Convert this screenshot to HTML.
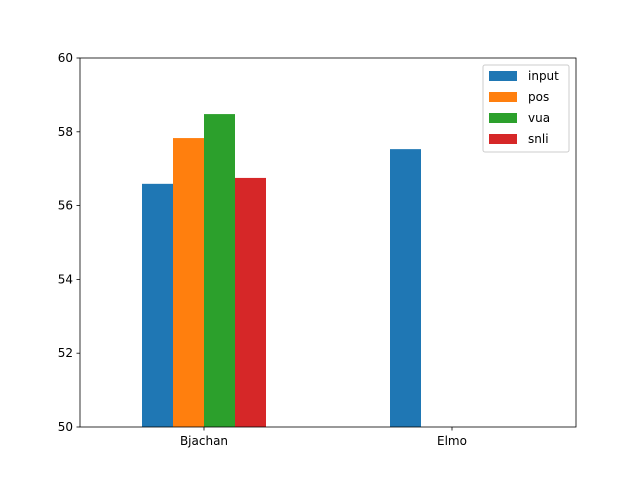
<!DOCTYPE html>
<html><head><meta charset="utf-8"><style>
body{margin:0;background:#fff}
svg text{font-family:"DejaVu Sans","Liberation Sans",sans-serif;font-size:12px;fill:#000}
</style></head><body>
<svg id="chart" width="640" height="480" xmlns="http://www.w3.org/2000/svg">
<rect width="640" height="480" fill="#fff"/>
<g id="bars"></g>
<g id="axes"></g>
<g id="legend"></g>
</svg>
<script>
const categories = ["Bjachan", "Elmo"];
const seriesNames = ["input", "pos", "vua", "snli"];
const seriesColors = ["#1f77b4", "#ff7f0e", "#2ca02c", "#d62728"];
const inputValues = [56.59, 57.53];
const posValues = [57.83, null];
const vuaValues = [58.48, null];
const snliValues = [56.75, null];
const yTicks = [50, 52, 54, 56, 58, 60];

const NS = "http://www.w3.org/2000/svg";
const L = 80, R = 576, T = 58, B = 427;
const yMin = 50, yMax = 60;
const xMin = -0.5, xMax = 1.5;
const xs = v => L + (v - xMin) / (xMax - xMin) * (R - L);
const ys = v => B - (v - yMin) / (yMax - yMin) * (B - T);
function mk(tag, attrs, parent) { const e = document.createElementNS(NS, tag); for (const k in attrs) e.setAttribute(k, attrs[k]); parent.appendChild(e); return e; }

const series = [inputValues, posValues, vuaValues, snliValues];
const bw = 0.125;
const gB = document.getElementById("bars");
series.forEach((vals, si) => {
  vals.forEach((v, ci) => {
    if (v == null) return;
    const x0 = ci - 0.25 + si * bw;
    const r = mk("rect", { x: xs(x0), y: ys(v), width: xs(x0 + bw) - xs(x0), height: ys(yMin) - ys(v), fill: seriesColors[si] }, gB);
    
    
  });
});

const gA = document.getElementById("axes");
const frame = mk("rect", { x: L, y: T, width: R - L, height: B - T, fill: "none", stroke: "#000", "stroke-width": 0.8 }, gA);


yTicks.forEach(t => {
  const y = ys(t);
  mk("line", { x1: L - 3.5, x2: L, y1: y, y2: y, stroke: "#000", "stroke-width": 0.8 }, gA);
  const tx = mk("text", { x: L - 7, y: y + 4, "text-anchor": "end" }, gA);
  tx.textContent = t;
  
  
});
categories.forEach((c, i) => {
  const x = xs(i);
  mk("line", { x1: x, x2: x, y1: B, y2: B + 3.5, stroke: "#000", "stroke-width": 0.8 }, gA);
  const tx = mk("text", { x: x, y: B + 18, "text-anchor": "middle" }, gA);
  tx.textContent = c;
  
  
});

const gL = document.getElementById("legend");
const box = mk("rect", { x: 483, y: 65, width: 86, height: 87, rx: 2, fill: "#fff", "fill-opacity": 0.8, stroke: "#ccc", "stroke-width": 1 }, gL);


seriesNames.forEach((n, i) => {
  const y = 76 + i * 21;
  const p = mk("rect", { x: 489, y: y - 5, width: 28, height: 10, fill: seriesColors[i] }, gL);
  
  
  const t = mk("text", { x: 528, y: y + 4 }, gL);
  t.textContent = n;
  
  
});
</script>
</body></html>
